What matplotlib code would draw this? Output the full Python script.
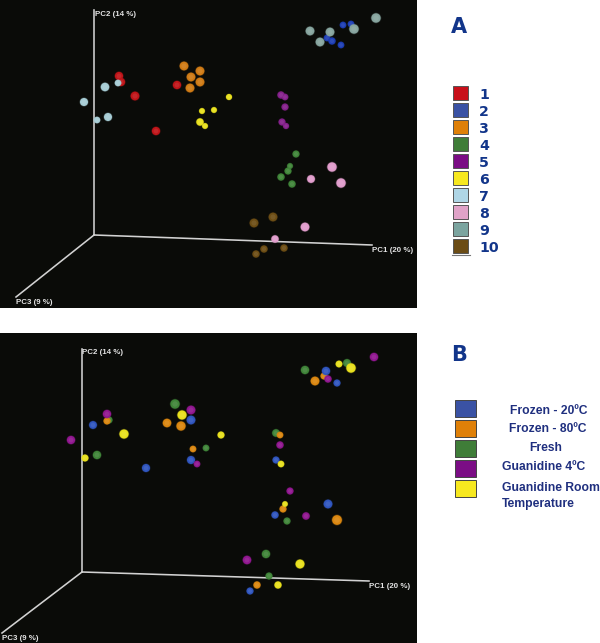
# -*- coding: utf-8 -*-
# PCoA scatter, two panels, points in screen units
import matplotlib
matplotlib.use('Agg')
import matplotlib.pyplot as plt
from matplotlib.patches import Rectangle

W, H = 600, 643

#%% panel A, groups 1-10 (x, y, sphere radius = depth)
a1_x = [119, 121, 135, 156, 177]
a1_y = [76, 82, 96, 131, 85]
a1_r = [3.8, 3.8, 4, 3.8, 3.8]
a2_x = [343, 351, 327, 332, 341]
a2_y = [25, 24, 38, 41, 45]
a2_r = [3, 3, 3, 3.3, 3]
a3_x = [184, 200, 191, 200, 190]
a3_y = [66, 71, 77, 82, 88]
a3_r = [4, 4, 4, 4, 4]
a4_x = [296, 290, 288, 281, 292]
a4_y = [154, 166, 171, 177, 184]
a4_r = [3.2, 2.7, 3.2, 3.3, 3.3]
a5_x = [281, 285, 285, 282, 286]
a5_y = [95, 97, 107, 122, 126]
a5_r = [3.3, 3, 3.2, 3.2, 2.8]
a6_x = [202, 214, 200, 205, 229]
a6_y = [111, 110, 122, 126, 97]
a6_r = [2.7, 2.7, 3.4, 2.7, 2.8]
a7_x = [105, 118, 84, 97, 108]
a7_y = [87, 83, 102, 120, 117]
a7_r = [3.9, 3, 3.7, 3, 3.7]
a8_x = [332, 341, 311, 305, 275]
a8_y = [167, 183, 179, 227, 239]
a8_r = [4.3, 4.3, 3.6, 4, 3.4]
a9_x = [310, 330, 320, 354, 376]
a9_y = [31, 32, 42, 29, 18]
a9_r = [4, 4, 4, 4.3, 4.3]
a10_x = [254, 273, 264, 284, 256]
a10_y = [223, 217, 249, 248, 254]
a10_r = [4, 4, 3.3, 3.3, 3.3]

#%% panel B, storage groups
b_blue_x = [93, 191, 146, 191, 326, 337, 276, 328, 275, 250]
b_blue_y = [425, 420, 468, 460, 371, 383, 460, 504, 515, 591]
b_blue_r = [3.6, 4, 3.7, 3.7, 3.8, 3.2, 3.2, 4, 3.3, 3.2]
b_orange_x = [107, 167, 181, 193, 315, 324, 280, 283, 337, 257]
b_orange_y = [421, 423, 426, 449, 381, 376, 435, 509, 520, 585]
b_orange_r = [3.2, 3.9, 4.2, 3, 4, 3.2, 3, 3.2, 4.5, 3.3]
b_green_x = [109, 175, 97, 206, 305, 347, 276, 287, 266, 269]
b_green_y = [420, 404, 455, 448, 370, 363, 433, 521, 554, 576]
b_green_r = [3.2, 4.3, 3.8, 3, 3.8, 3.6, 3.5, 3.2, 3.8, 3.2]
b_purple_x = [107, 191, 71, 197, 374, 328, 280, 290, 306, 247]
b_purple_y = [414, 410, 440, 464, 357, 379, 445, 491, 516, 560]
b_purple_r = [3.8, 4, 3.8, 3, 3.8, 3.3, 3.3, 3.2, 3.4, 3.9]
b_yellow_x = [124, 182, 221, 85, 339, 351, 281, 285, 300, 278]
b_yellow_y = [434, 415, 435, 458, 364, 368, 464, 504, 564, 585]
b_yellow_r = [4.2, 4.2, 3.2, 3.2, 3.1, 4.3, 3, 2.6, 4.1, 3.3]

#%% legends
labels_a = ['1', '2', '3', '4', '5', '6', '7', '8', '9', '10']
swatch_a = ['#c8101a', '#3a52a4', '#df8008', '#3f7d38', '#7b0d85',
            '#f7e81f', '#afd6e6', '#e0a3c8', '#7ba49f', '#6b4c15']
sphere_a = ['#bf1418', '#1c3db4', '#cf7a14', '#3f8438', '#84208a',
            '#e8e01c', '#a6ccd4', '#e09ccb', '#86a49e', '#6c4d14']
swatch_b = ['#3a52a4', '#df8008', '#3f7d38', '#7b0d85', '#f7e81f']
sphere_b = ['#2f55be', '#da860f', '#3f8438', '#90168f', '#e8e01c']

bg = '#0a0b08'
txt = '#e4e4e4'
navy = '#12358a'
navy2 = '#1f2f7f'


def spheres(ax, x, y, r, col):
    # soft halo, body, then faint middle so they look round
    s = [(1.44 * v * 1.08) ** 2 for v in r]
    ax.scatter(x, y, s=[v * 1.3 for v in s], color=col, alpha=0.3, lw=0, zorder=3)
    ax.scatter(x, y, s=s, color=col, lw=0, zorder=3)
    ax.scatter(x, y, s=[v * 0.35 for v in s], color='white', alpha=0.08, lw=0, zorder=3)


def panel(pos_y0, pos_y1, origin, top, pc1, pc3, lab2, lab1, lab3):
    ax = fig.add_axes([0, 1 - pos_y1 / H, 417 / W, (pos_y1 - pos_y0) / H])
    ax.set_xlim(0, 417)
    ax.set_ylim(pos_y1, pos_y0)
    ax.set_facecolor(bg)
    ax.set_xticks([])
    ax.set_yticks([])
    for sp in ax.spines.values():
        sp.set_visible(False)
    for end in (top, pc1, pc3):
        ax.plot([origin[0], end[0]], [origin[1], end[1]], color='#d2d2d2', lw=1.15, zorder=2)
    for (lx, ly, s) in (lab2 + ('PC2 (14 %)',), lab1 + ('PC1 (20 %)',), lab3 + ('PC3 (9 %)',)):
        ax.text(lx, ly, s, color=txt, fontsize=5.7, family='Liberation Sans',
                fontweight='bold', va='center', ha='left', zorder=4)
    return ax


fig = plt.figure(figsize=(W / 100, H / 100), dpi=100, facecolor='white')

ax_a = panel(0, 308, (94, 235), (94, 10), (372, 245), (16, 297),
             (95, 14), (372, 250), (16, 302))
ax_b = panel(333, 643, (82, 572), (82, 349), (369, 581), (2, 633),
             (82, 353), (369, 586), (2, 639))

groups_a = [(a1_x, a1_y, a1_r), (a2_x, a2_y, a2_r), (a3_x, a3_y, a3_r), (a4_x, a4_y, a4_r),
            (a5_x, a5_y, a5_r), (a6_x, a6_y, a6_r), (a7_x, a7_y, a7_r), (a8_x, a8_y, a8_r),
            (a9_x, a9_y, a9_r), (a10_x, a10_y, a10_r)]
for g, col in zip(groups_a, sphere_a):
    spheres(ax_a, g[0], g[1], g[2], col)

# draw order so overlaps come out as in the picture
spheres(ax_b, b_green_x, b_green_y, b_green_r, sphere_b[2])
spheres(ax_b, b_orange_x, b_orange_y, b_orange_r, sphere_b[1])
spheres(ax_b, b_blue_x, b_blue_y, b_blue_r, sphere_b[0])
spheres(ax_b, b_purple_x, b_purple_y, b_purple_r, sphere_b[3])
spheres(ax_b, b_yellow_x, b_yellow_y, b_yellow_r, sphere_b[4])

#%% overlay for legends
ov = fig.add_axes([0, 0, 1, 1])
ov.set_xlim(0, W)
ov.set_ylim(H, 0)
ov.axis('off')
ov.patch.set_alpha(0)

ov.text(451, 33, 'A', color=navy, fontsize=15, fontweight='bold', va='baseline', ha='left')
for i, (lab, col) in enumerate(zip(labels_a, swatch_a)):
    y = 86 + 17 * i
    ov.add_patch(Rectangle((452.5, y), 15.5, 14, fc=col, ec='#555555', lw=0.7))
    ov.text(479, y + 13, lab, color=navy, fontsize=10.2, fontweight='bold', va='baseline', ha='left')
ov.plot([452, 470], [254.5, 254.5], color='#777777', lw=0.8)

ov.text(451, 361, 'B', color=navy, fontsize=15, fontweight='bold', va='baseline', ha='left')
for i, col in enumerate(swatch_b):
    ov.add_patch(Rectangle((454.5, 400 + 20 * i), 21, 16.5, fc=col, ec='#444444', lw=0.7))

font_b = dict(color=navy2, fontsize=8.7, family='Liberation Sans', fontweight='bold', va='center')
ov.text(549, 411, 'Frozen - 20ºC', ha='center', **font_b)
ov.text(548, 429, 'Frozen - 80ºC', ha='center', **font_b)
ov.text(546, 448, 'Fresh', ha='center', **font_b)
ov.text(502, 467, 'Guanidine 4ºC', ha='left', **font_b)
ov.text(502, 488, 'Guanidine Room', ha='left', **font_b)
ov.text(502, 504, 'Temperature', ha='left', **font_b)

fig.savefig('out.png', dpi=100)
